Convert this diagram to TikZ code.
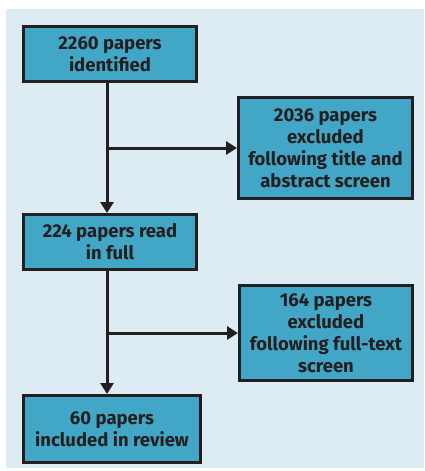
\documentclass[tikz,border=0pt]{standalone}
\usepackage{fontspec}
\setmainfont{Fira Sans}
\usetikzlibrary{arrows.meta}
\definecolor{panel}{HTML}{DDEBF2}
\definecolor{boxfill}{HTML}{42A6C6}
\definecolor{ink}{HTML}{231F20}
\begin{document}
\begin{tikzpicture}[x=1pt,y=-1pt,
  flowbox/.style={draw=ink, fill=boxfill, line width=3pt, align=center, text=ink,
    font=\fontsize{18.5}{22}\selectfont\bfseries, inner sep=0pt},
  flowarrow/.style={draw=ink, line width=3pt, -{Triangle[length=11pt,width=13pt]}},
  flowline/.style={draw=ink, line width=3pt}]
\useasboundingbox (0,0) rectangle (424,471);
\fill[white] (0,0) rectangle (424,471);
\fill[panel] (6,9) rectangle (424,468);

\node[flowbox, minimum width=173pt, minimum height=55pt] (b1) at (110,54) {2260 papers\\identified};
\node[flowbox, minimum width=174pt, minimum height=101pt] (b2) at (325.5,148) {2036 papers\\excluded\\following title and\\abstract screen};
\node[flowbox, minimum width=173pt, minimum height=55pt] (b3) at (110,242) {224 papers read\\in full};
\node[flowbox, minimum width=173pt, minimum height=95pt] (b4) at (326,333) {164 papers\\excluded\\following full-text\\screen};
\node[flowbox, minimum width=177pt, minimum height=67pt] (b5) at (112,429) {60 papers\\included in review};

\coordinate (spine) at (107,0);
\draw[flowarrow] (b1.south -| spine) -- (b3.north -| spine);
\draw[flowarrow] (spine |- b2.west) -- (b2.west);
\draw[flowarrow] (b3.south -| spine) -- (b5.north -| spine);
\draw[flowarrow] (spine |- b4.west) -- (b4.west);
\end{tikzpicture}
\end{document}
